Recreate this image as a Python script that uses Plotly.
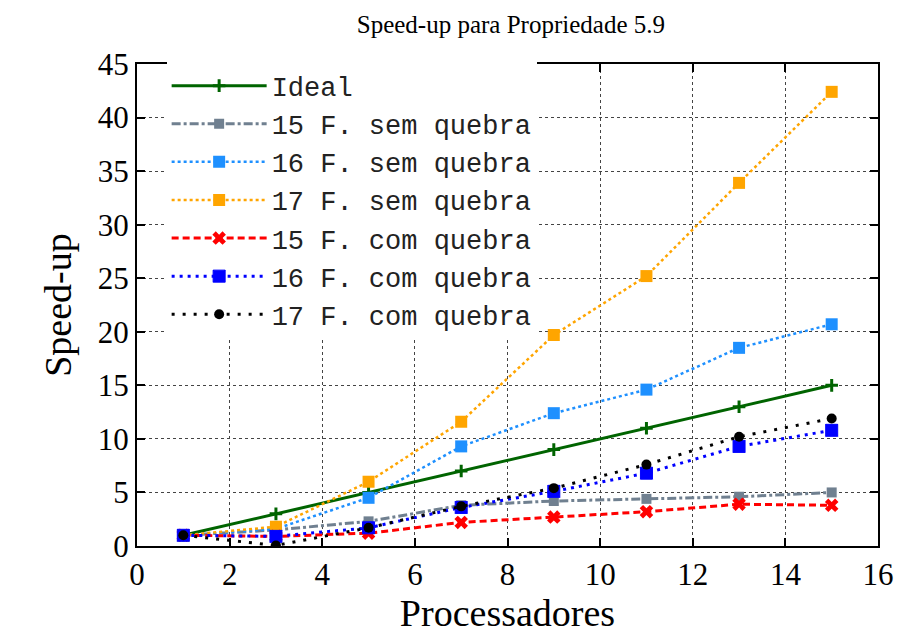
import plotly.graph_objects as go

processadores = [1, 3, 5, 7, 9, 11, 13, 15]

ideal = [1, 3, 5, 7, 9, 11, 13, 15]
f15_sem = [1.0, 1.5, 2.3, 3.8, 4.2, 4.4, 4.6, 5.0]
f16_sem = [1.0, 1.6, 4.5, 9.3, 12.4, 14.6, 18.5, 20.7]
f17_sem = [1.0, 1.8, 6.0, 11.6, 19.7, 25.2, 33.9, 42.4]
f15_com = [1.0, 0.9, 1.2, 2.2, 2.7, 3.2, 3.9, 3.8]
f16_com = [1.0, 0.9, 1.7, 3.6, 5.1, 6.8, 9.3, 10.8]
f17_com = [1.0, 0.05, 1.7, 3.7, 5.4, 7.6, 10.2, 11.9]

x_ticks = [0, 2, 4, 6, 8, 10, 12, 14, 16]
y_ticks = [0, 5, 10, 15, 20, 25, 30, 35, 40, 45]

series = [
    ("Ideal", ideal, dict(color="#006400", width=3, dash="solid"),
     dict(symbol="cross-thin", size=9, line=dict(color="#006400", width=3))),
    ("15 F. sem quebra", f15_sem, dict(color="#708090", width=3, dash="dashdot"),
     dict(symbol="square", size=10, color="#708090")),
    ("16 F. sem quebra", f16_sem, dict(color="#1E90FF", width=2.5, dash="dot"),
     dict(symbol="square", size=12, color="#1E90FF")),
    ("17 F. sem quebra", f17_sem, dict(color="#FFA500", width=2.5, dash="dot"),
     dict(symbol="square", size=12, color="#FFA500")),
    ("15 F. com quebra", f15_com, dict(color="#FF0000", width=3, dash="7px,4px"),
     dict(symbol="x", size=12, color="#FF0000")),
    ("16 F. com quebra", f16_com, dict(color="#0000FF", width=3, dash="3px,5px"),
     dict(symbol="square-x", size=12, color="#0000FF", line=dict(color="#0000FF", width=1))),
    ("17 F. com quebra", f17_com, dict(color="#000000", width=3, dash="3px,8px"),
     dict(symbol="circle", size=10, color="#000000")),
]

fig = go.Figure()
for name, vals, line, marker in series:
    fig.add_trace(go.Scatter(x=processadores, y=vals, name=name, mode="lines+markers",
                             line=line, marker=marker))

serif = "Liberation Serif, Times New Roman, serif"

fig.update_xaxes(range=[0, 16], tickvals=x_ticks)
fig.update_yaxes(range=[0, 45], tickvals=y_ticks)
fig.update_xaxes(
    showline=True, linecolor="black", linewidth=2, mirror="allticks",
    ticks="inside", ticklen=8, tickwidth=1.5, tickcolor="black",
    showgrid=True, gridcolor="#444444", griddash="dot", gridwidth=1,
    zeroline=False,
    tickfont=dict(family=serif, size=31, color="black"),
    title=dict(text="Processadores", font=dict(family=serif, size=38, color="black"), standoff=6),
)
fig.update_yaxes(
    showline=True, linecolor="black", linewidth=2, mirror="allticks",
    ticks="inside", ticklen=8, tickwidth=1.5, tickcolor="black",
    showgrid=True, gridcolor="#444444", griddash="dot", gridwidth=1,
    zeroline=False,
    tickfont=dict(family=serif, size=31, color="black"),
    title=dict(text="Speed-up", font=dict(family=serif, size=38, color="black"), standoff=14),
)

fig.update_layout(
    width=898, height=631,
    margin=dict(l=129, r=26, t=56, b=93),
    paper_bgcolor="white", plot_bgcolor="white",
    title=dict(text="Speed-up para Propriedade 5.9", x=0.56, xanchor="center", y=0.988, yanchor="top",
               font=dict(family=serif, size=25, color="black")),
    legend=dict(x=0.04, y=1.005, xanchor="left", yanchor="top", bgcolor="white",
                borderwidth=0, itemwidth=95, tracegroupgap=0,
                font=dict(family="Liberation Mono", size=27, color="#222222")),
    showlegend=True,
)

fig.write_html("out.html")
